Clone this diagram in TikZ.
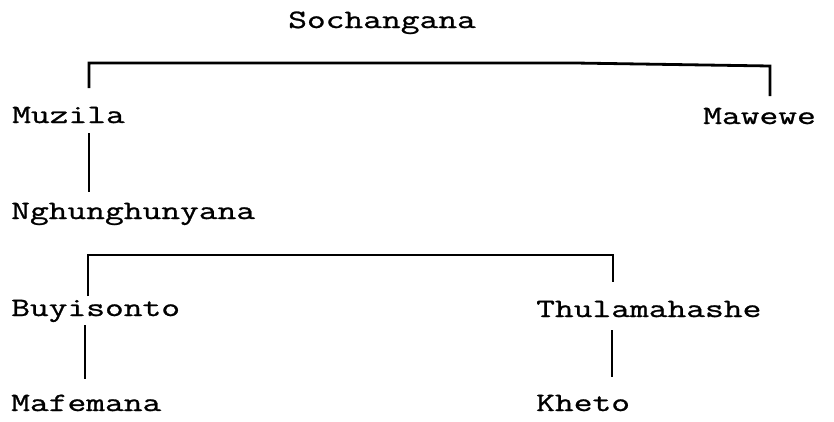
\documentclass[tikz,border=0pt]{standalone}
\usepackage{fontspec}
\usetikzlibrary{calc}
\setmonofont{Latin Modern Mono}[FakeStretch=1.375,FakeBold=1]
\begin{document}
\begin{tikzpicture}[x=1pt,y=-1pt,
  person/.style={anchor=base west,inner sep=0pt,font=\ttfamily\fontsize{26.5}{30}\selectfont},
  link/.style={line width=2.8pt,line cap=butt,line join=miter}]
\useasboundingbox (0,0) rectangle (834,421);
% names
\node[person] (soch) at (288,28) {Sochangana};
\node[person] (muz) at (12,123) {Muzila};
\node[person] (maw) at (703,124) {Mawewe};
\node[person] (ngh) at (11,219) {Nghunghunyana};
\node[person] (buy) at (11,316) {Buyisonto};
\node[person] (thu) at (536,317) {Thulamahashe};
\node[person] (maf) at (11,411) {Mafemana};
\node[person] (khe) at (536,411) {Kheto};
% bracket corners
\coordinate (topL) at (89,63);
\coordinate (topM) at (575,63);
\coordinate (topR) at (770,66);
\coordinate (midL) at (88,255);
\coordinate (midR) at (613,255);
% connectors
\draw[link] ($(muz.base west)+(77,-35)$) -- (topL) -- (topM) -- (topR) -- ($(maw.base west)+(67,-28)$);
\draw[link] ($(muz.base west)+(77,10)$) -- ($(ngh.base west)+(78,-27)$);
\draw[link] ($(buy.base west)+(77,-20)$) -- (midL) -- (midR) -- ($(thu.base west)+(77,-35)$);
\draw[link] ($(buy.base west)+(74,9)$) -- ($(maf.base west)+(74,-32)$);
\draw[link] ($(thu.base west)+(76,13)$) -- ($(khe.base west)+(76,-34)$);
\end{tikzpicture}
\end{document}
